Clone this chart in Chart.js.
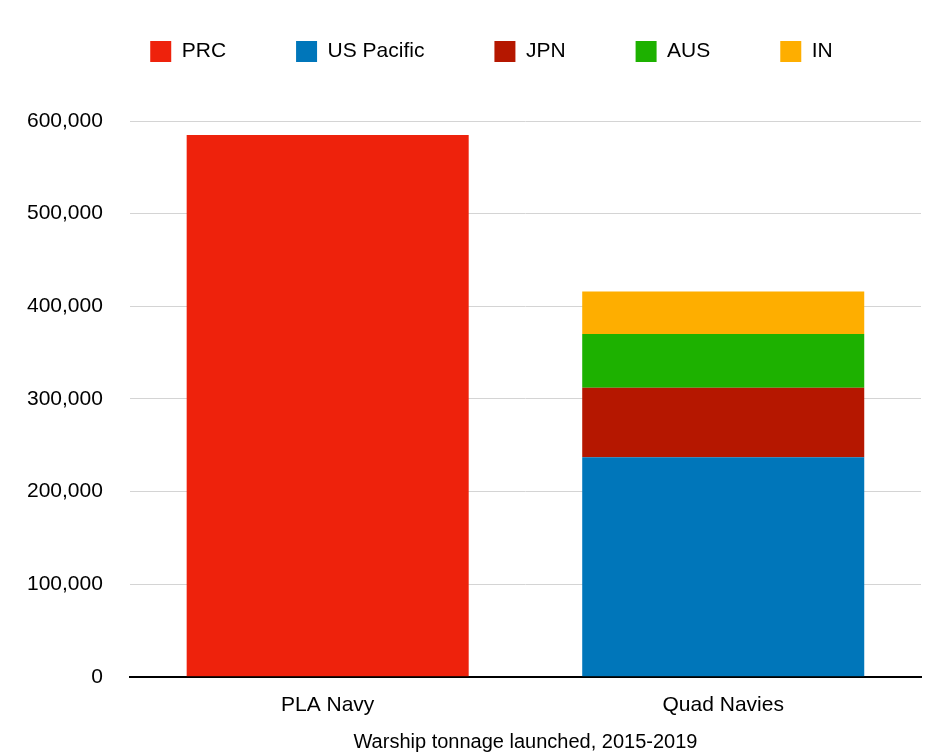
<!DOCTYPE html>
<html>
<head>
<meta charset="utf-8">
<script src="https://cdn.jsdelivr.net/npm/chart.js@4"></script>
<style>
  html, body { margin: 0; padding: 0; background: #fff; }
  #wrap { width: 926px; height: 754px; }
</style>
</head>
<body>
<div id="wrap"><canvas id="myChart"></canvas></div>
<script>
const categories = ["PLA Navy", "Quad Navies"]
const prc = [585000, null]
const usPacific = [null, 237000]
const jpn = [null, 75000]
const aus = [null, 58000]
const ind = [null, 46000]
const yTicks = [0, 100000, 200000, 300000, 400000, 500000, 600000]

Chart.defaults.font.family = "'Liberation Sans', Arial, Helvetica, sans-serif"
Chart.defaults.color = "#000"

// more room under the legend, and nudge it right a bit
const legendGap = {
    id: "legendGap",
    beforeInit(chart) {
        const fit = chart.legend.fit
        chart.legend.fit = function () {
            fit.bind(chart.legend)()
            this.height += 49
        }
    },
    afterLayout(chart) {
        chart.legend.left += 31
        chart.legend.right += 31
    },
}

const ctx = document.querySelector("#myChart").getContext("2d")

const makeSet = (label, data, color) => ({
    label: label,
    data: data,
    backgroundColor: color,
    borderWidth: 0,
    barPercentage: 0.713,
    categoryPercentage: 1,
    stack: "s",
})

new Chart(ctx, {
    type: "bar",
    data: {
        labels: categories,
        datasets: [
            makeSet("PRC", prc, "#EE220C"),
            makeSet("US Pacific", usPacific, "#0076BA"),
            makeSet("JPN", jpn, "#B51700"),
            makeSet("AUS", aus, "#1DB100"),
            makeSet("IN", ind, "#FEAE00"),
        ],
    },
    options: {
        responsive: true,
        maintainAspectRatio: false,
        animation: false,
        layout: { padding: { top: -29, right: 5, left: 0, bottom: 0 } },
        plugins: {
            legend: {
                labels: {
                    boxWidth: 21,
                    boxHeight: 21,
                    padding: 70,
                    font: { size: 21 },
                },
            },
            tooltip: { enabled: false },
        },
        scales: {
            x: {
                stacked: true,
                grid: { display: false },
                border: { display: true, color: "#000", width: 2 },
                ticks: { font: { size: 21 }, padding: 8 },
                title: {
                    display: true,
                    text: "Warship tonnage launched, 2015-2019",
                    font: { size: 20 },
                    padding: { top: 4, bottom: 0 },
                },
            },
            y: {
                stacked: true,
                min: 0,
                max: 600000,
                afterBuildTicks: axis => {
                    axis.ticks = yTicks.map(v => ({ value: v }))
                },
                grid: { color: "#d4d4d4", lineWidth: 1, drawTicks: false },
                border: { display: false },
                ticks: {
                    font: { size: 21 },
                    padding: 27,
                    callback: v => v.toLocaleString("en-US"),
                },
            },
        },
    },
    plugins: [legendGap],
})
</script>
</body>
</html>
